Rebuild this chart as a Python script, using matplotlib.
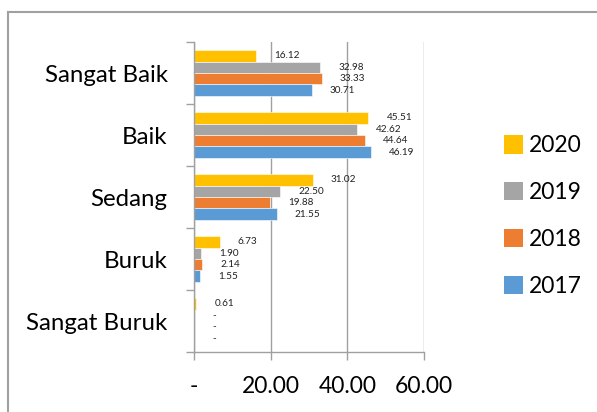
import matplotlib
matplotlib.use("Agg")
import matplotlib.pyplot as plt
from matplotlib.patches import Patch
from matplotlib.lines import Line2D
import numpy as np

plt.rcParams['font.family'] = ['Lato', 'DejaVu Sans']

kategori = ["Sangat Baik", "Baik", "Sedang", "Buruk", "Sangat Buruk"]
tahun = ["2020", "2019", "2018", "2017"]
nilai_2020 = [16.12, 45.51, 31.02, 6.73, 0.61]
nilai_2019 = [32.98, 42.62, 22.50, 1.90, None]
nilai_2018 = [33.33, 44.64, 19.88, 2.14, None]
nilai_2017 = [30.71, 46.19, 21.55, 1.55, None]
warna = ["#FFC000", "#A5A5A5", "#ED7D31", "#5B9BD5"]
xticks = [0, 20, 40, 60]
xticklabels = ["-", "20.00", "40.00", "60.00"]

fig = plt.figure(figsize=(5.97, 4.12), dpi=100)
ax = fig.add_axes([194 / 597, 1 - 352 / 412, 230 / 597, 310 / 412])

y = np.arange(len(kategori))
h = 0.185
offsets = [-1.5 * h, -0.5 * h, 0.5 * h, 1.5 * h]
seri = [nilai_2020, nilai_2019, nilai_2018, nilai_2017]

for vals, off, c in zip(seri, offsets, warna):
    v = [0 if x is None else x for x in vals]
    ax.barh(y + off, v, height=h, color=c, edgecolor="white", linewidth=0.4)
    for yi, x in zip(y, vals):
        txt = "-" if x is None else f"{x:.2f}"
        ax.annotate(txt, (0 if x is None else x, yi + off), xytext=(13, 0),
                    textcoords="offset points", va="center", ha="left",
                    fontsize=7.2, color="#222222")

ax.set_xlim(0, 60)
ax.set_ylim(len(kategori) - 0.5, -0.5)

ax.set_xticks(xticks)
ax.set_xticklabels(xticklabels, fontsize=16.5)
ax.tick_params(axis="x", direction="out", length=6, width=1, color="#A0A0A0", pad=11)

ax.set_yticks(np.arange(-0.5, len(kategori)), minor=False)
ax.set_yticklabels([])
ax.set_yticks(y, minor=True)
ax.set_yticklabels(kategori, minor=True, fontsize=17.3)
ax.tick_params(axis="y", which="major", direction="out", length=6, width=1, color="#A0A0A0")
ax.tick_params(axis="y", which="minor", length=0, pad=19)

ax.grid(axis="x", color="#A0A0A0", linewidth=1)
ax.set_axisbelow(True)
for s in ["top", "right"]:
    ax.spines[s].set_visible(False)
for s in ["left", "bottom"]:
    ax.spines[s].set_color("#A0A0A0")
    ax.spines[s].set_linewidth(1)

handles = [Patch(facecolor=c, label=t) for c, t in zip(warna, tahun)]
fig.legend(handles=handles, loc="center left", bbox_to_anchor=(504 / 597, 1 - 216 / 412),
           frameon=False, fontsize=16.5, handlelength=0.85, handleheight=0.85,
           handletextpad=0.25, labelspacing=1.12, borderpad=0, borderaxespad=0)

# bingkai luar
fig.add_artist(Line2D([8 / 597, 1], [1 - 12 / 412] * 2, transform=fig.transFigure,
                      color="#A0A0A0", linewidth=1.5))
fig.add_artist(Line2D([8 / 597] * 2, [0, 1 - 12 / 412], transform=fig.transFigure,
                      color="#A0A0A0", linewidth=1.5))

fig.savefig("out.png", dpi=100)
